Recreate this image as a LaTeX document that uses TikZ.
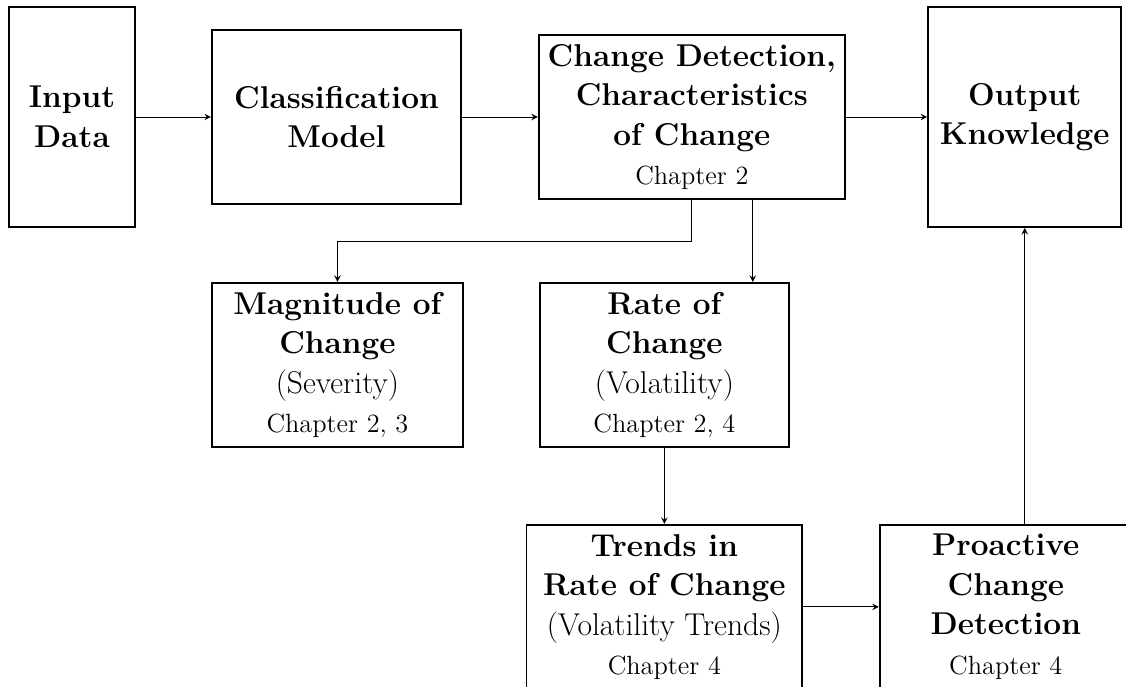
\documentclass[tikz,border=0pt]{standalone}
\usepackage{amsmath}
\usetikzlibrary{arrows,shapes}
\newcommand{\chapline}[1]{{\normalfont\fontsize{12.6}{15.4}\selectfont #1}}
\newcommand{\subline}[1]{{\mdseries #1}}

\begin{document}
\begin{tikzpicture}[
        blk/.style={draw,line width=0.9pt,align=center,font=\fontsize{15.1}{18.9}\selectfont\bfseries,inner sep=2pt},
        conn/.style={->,>=stealth,line width=0.4pt}]
            \useasboundingbox (0,0) rectangle (18.94,-11.54);

            % top row
            \node[blk,minimum width=2.12cm,minimum height=3.7cm] (input) at (1.211,-1.968) {Input\\Data};
            \node[blk,minimum width=4.19cm,minimum height=2.94cm] (classif) at (5.659,-1.968) {Classification\\Model};
            \node[blk,minimum width=5.15cm,minimum height=2.76cm] (change) at (11.637,-1.968)
                {Change Detection,\\Characteristics\\of Change\\\chapline{Chapter 2}};
            \node[blk,minimum width=3.25cm,minimum height=3.7cm] (output) at (17.237,-1.968) {Output\\Knowledge};

            % middle row
            \node[blk,minimum width=4.22cm,minimum height=2.76cm] (magnitude) at (5.676,-6.138)
                {Magnitude of\\Change\\\subline{(Severity)}\\\chapline{Chapter 2, 3}};
            \node[blk,minimum width=4.19cm,minimum height=2.76cm] (rate) at (11.175,-6.138)
                {Rate of\\Change\\\subline{(Volatility)}\\\chapline{Chapter 2, 4}};

            % bottom row
            \node[blk,minimum width=4.64cm,minimum height=2.76cm] (trends) at (11.175,-10.208)
                {Trends in\\Rate of Change\\\subline{(Volatility Trends)}\\\chapline{Chapter 4}};
            \node[blk,minimum width=4.24cm,minimum height=2.76cm] (proactive) at (16.918,-10.208)
                {Proactive\\Change\\Detection\\\chapline{Chapter 4}};

            \coordinate (elbow) at (11.637,-4.053);
            \coordinate (split) at (12.663,0);

            \draw[conn] (input) -- (classif);
            \draw[conn] (classif) -- (change);
            \draw[conn] (change) -- (output);
            \draw[conn] (change.south) -- (elbow) -| (magnitude.north);
            \draw[conn] (change.south -| split) -- (rate.north -| split);
            \draw[conn] (rate) -- (trends);
            \draw[conn] (trends) -- (proactive);
            \draw[conn] (proactive.north -| output.south) -- (output.south);
        \end{tikzpicture}
\end{document}
